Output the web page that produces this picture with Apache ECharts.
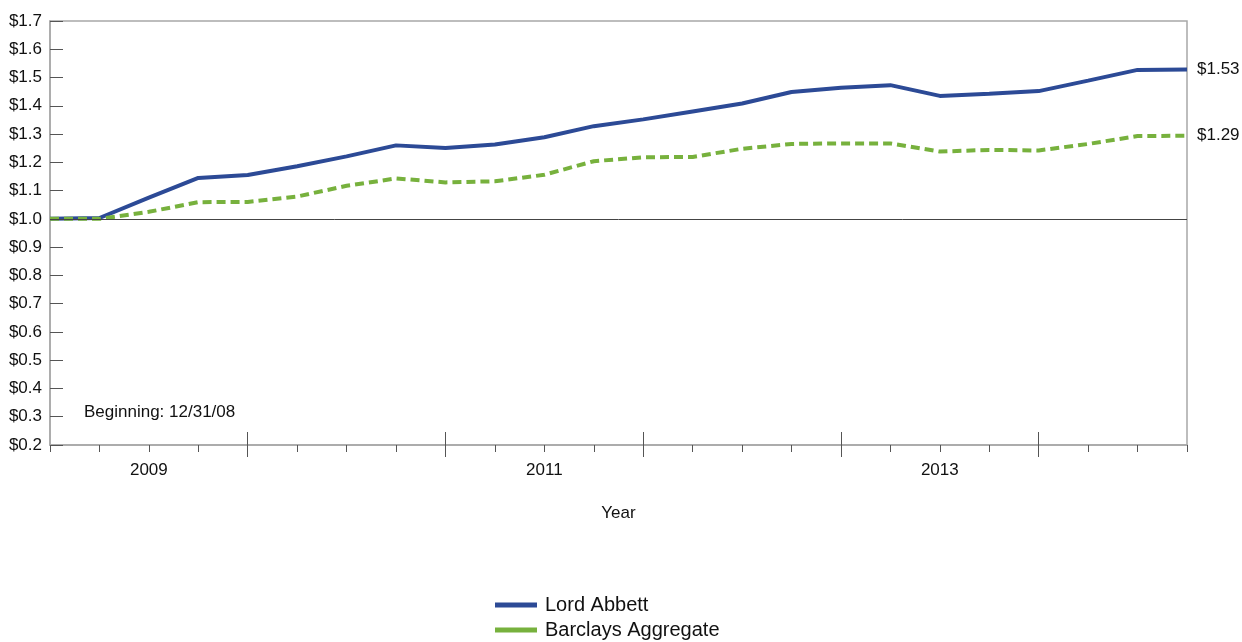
<!DOCTYPE html>
<html>
<head>
<meta charset="utf-8">
<script src="https://cdn.jsdelivr.net/npm/echarts@6/dist/echarts.min.js"></script>
<style>
html,body{margin:0;padding:0;background:#fff;}
#chart{width:1242px;height:642px;}
</style>
</head>
<body>
<div id="chart"></div>
<script>
// Quarter-end dates (12/31/08 .. 9/30/14)
const categories = ['12/31/08','3/31/09','6/30/09','9/30/09','12/31/09','3/31/10','6/30/10','9/30/10','12/31/10','3/31/11','6/30/11','9/30/11','12/31/11','3/31/12','6/30/12','9/30/12','12/31/12','3/31/13','6/30/13','9/30/13','12/31/13','3/31/14','6/30/14','9/30/14'];
const xTickLabels = ['','','2009','','','','','','','','2011','','','','','','','','2013','','','','',''];
const lordAbbett = [1.000,1.003,1.075,1.145,1.155,1.186,1.221,1.260,1.251,1.263,1.289,1.328,1.352,1.380,1.408,1.449,1.464,1.473,1.435,1.443,1.452,1.489,1.527,1.528];
const barclays   = [1.000,1.000,1.025,1.059,1.060,1.079,1.117,1.143,1.129,1.133,1.156,1.204,1.218,1.219,1.248,1.265,1.267,1.267,1.238,1.244,1.242,1.265,1.293,1.294];
const seriesNames = ['Lord Abbett','Barclays Aggregate'];
const yearTickIdx = [4,8,12,16,20];

const FONT = 'Liberation Sans, Arial, sans-serif';
const chart = echarts.init(document.getElementById('chart'), null, {renderer:'canvas'});
const yearTick = (i) => yearTickIdx.indexOf(i) >= 0;

chart.setOption({
  animation: false,
  textStyle: {fontFamily: FONT},
  grid: {left: 50, right: 55, top: 21, bottom: 197, show: true, borderColor: '#a8a8a8', borderWidth: 1.5, backgroundColor: 'transparent'},
  legend: {
    orient: 'vertical', left: 495, top: 595, itemGap: 5, height: 47, padding: 0,
    itemWidth: 42, itemHeight: 5,
    textStyle: {fontFamily: FONT, fontSize: 20, lineHeight: 20, color: '#111', padding: [0,0,0,3]},
    data: [
      {name: seriesNames[0], icon: 'rect', itemStyle: {color: '#2C4A96'}},
      {name: seriesNames[1], icon: 'rect', itemStyle: {color: '#77B13D'}}
    ]
  },
  xAxis: [
    {
      type: 'category', data: categories, boundaryGap: false,
      axisLine: {lineStyle: {color: '#a8a8a8', width: 1.5}},
      axisTick: {show: true, interval: 0, length: 7, lineStyle: {color: '#555'}},
      axisLabel: {interval: 0, margin: 17, fontSize: 17, color: '#111', fontFamily: FONT,
        formatter: (v, i) => xTickLabels[i]},
      name: 'Year', nameLocation: 'middle', nameGap: 60,
      nameTextStyle: {fontSize: 17, color: '#111', fontFamily: FONT},
      splitLine: {show: false}
    },
    {
      type: 'category', data: categories, boundaryGap: false, position: 'bottom',
      axisLine: {show: false}, axisLabel: {show: false},
      axisTick: {show: true, inside: true, length: 13, interval: (i) => yearTick(i), lineStyle: {color: '#555'}},
      splitLine: {show: false}
    },
    {
      type: 'category', data: categories, boundaryGap: false, position: 'bottom',
      axisLine: {show: false}, axisLabel: {show: false},
      axisTick: {show: true, inside: false, length: 12, interval: (i) => yearTick(i), lineStyle: {color: '#555'}},
      splitLine: {show: false}
    }
  ],
  yAxis: {
    type: 'value', min: 0.2, max: 1.7, interval: 0.1,
    axisLine: {show: true, lineStyle: {color: '#a8a8a8', width: 1.5}},
    axisTick: {show: true, inside: true, length: 13, lineStyle: {color: '#555'}},
    axisLabel: {fontSize: 17, color: '#111', margin: 8, fontFamily: FONT,
      formatter: (v) => '$' + v.toFixed(1)},
    splitLine: {show: false}
  },
  graphic: [
    {type: 'text', left: 84, top: 404, style: {text: 'Beginning: 12/31/08', fontSize: 17, fontFamily: FONT, fill: '#111'}}
  ],
  series: [
    {
      name: seriesNames[0], type: 'line', data: lordAbbett, xAxisIndex: 0,
      showSymbol: false, symbol: 'none',
      lineStyle: {color: '#2C4A96', width: 4},
      itemStyle: {color: '#2C4A96'},
      endLabel: {show: true, distance: 10, fontSize: 17, color: '#111', fontFamily: FONT,
        formatter: (p) => '$' + p.value.toFixed(2)},
      markLine: {silent: true, symbol: 'none', label: {show: false},
        lineStyle: {color: '#444', width: 1, type: 'solid'},
        data: [{yAxis: 1.0}]},
      z: 2
    },
    {
      name: seriesNames[1], type: 'line', data: barclays, xAxisIndex: 0,
      showSymbol: false, symbol: 'none',
      lineStyle: {color: '#77B13D', width: 4, type: [9, 5]},
      itemStyle: {color: '#77B13D'},
      endLabel: {show: true, distance: 10, fontSize: 17, color: '#111', fontFamily: FONT,
        formatter: (p) => '$' + p.value.toFixed(2)},
      z: 3
    }
  ]
});
</script>
</body>
</html>
